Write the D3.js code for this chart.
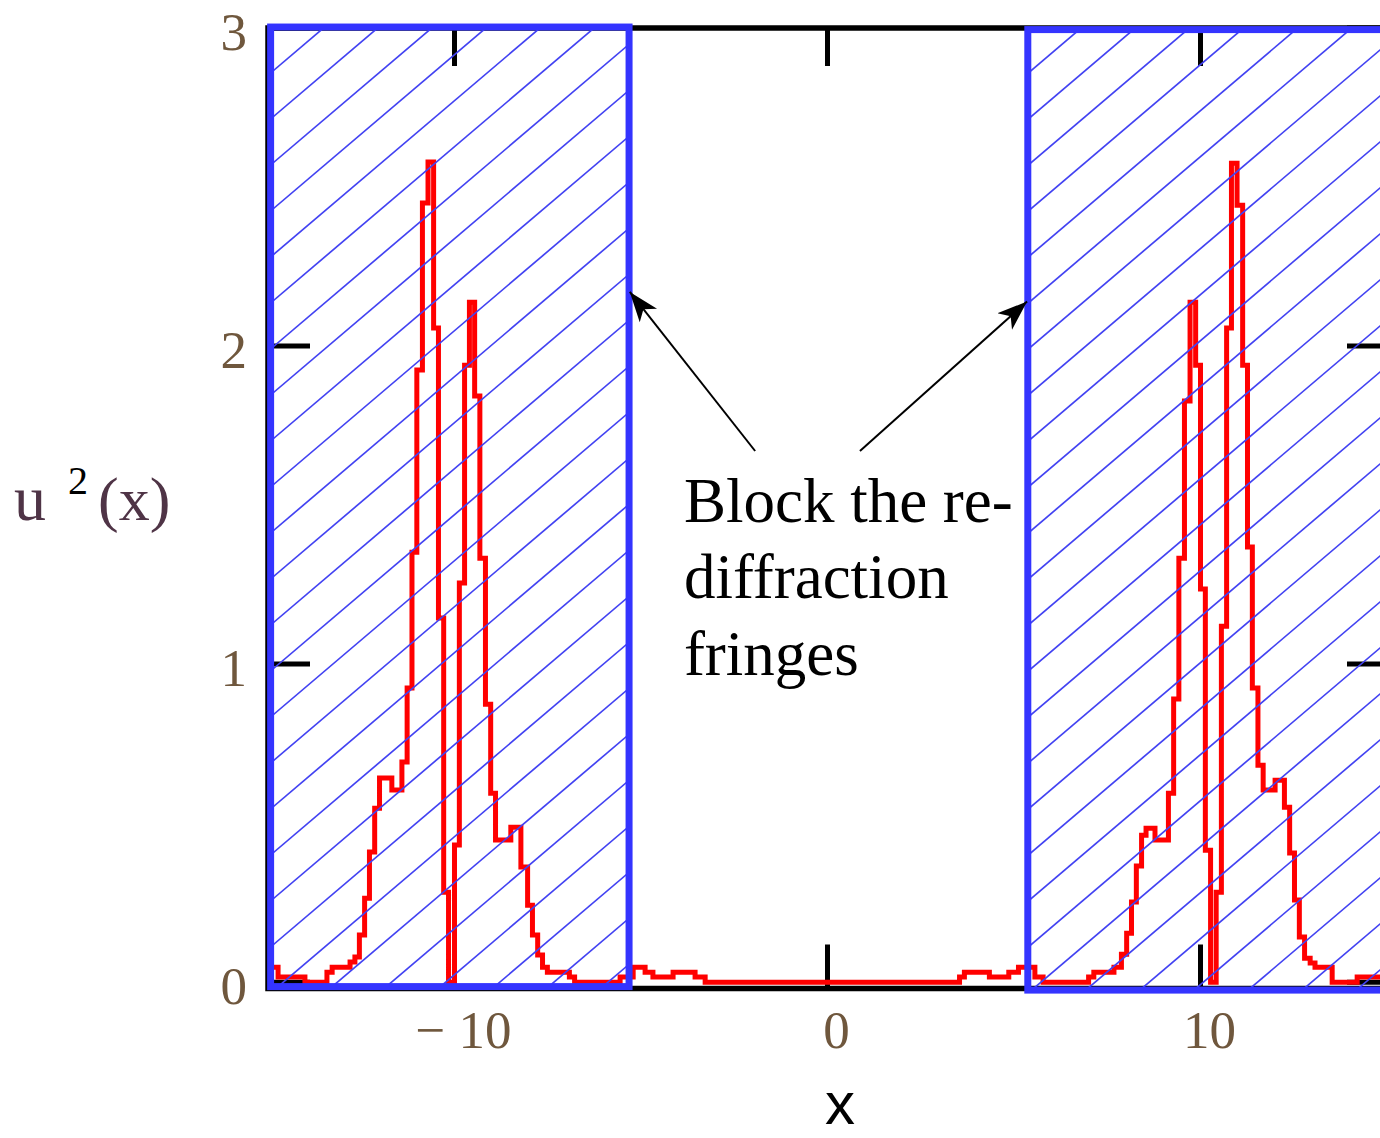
<!DOCTYPE html>
<html>
<head>
<meta charset="utf-8">
<script src="https://cdn.jsdelivr.net/npm/d3@7"></script>
<style>
  html, body { margin: 0; padding: 0; background: #ffffff; overflow: hidden; }
  svg { display: block; }
</style>
</head>
<body>
<svg id="chart" width="1380" height="1138"></svg>
<script>
// u²(x) intensity profile, held as a staircase: each x is where a new level starts
const profileX = [
  -15.00, -14.73, -14.01, -13.42, -13.28, -12.80, -12.67, -12.55, -12.41, -12.28,
  -12.14, -12.01, -11.68, -11.41, -11.27, -11.14, -11.01, -10.86, -10.71, -10.56,
  -10.43, -10.29, -10.16, -10.00, -9.87, -9.73, -9.60, -9.46, -9.32, -9.17,
  -9.03, -8.90, -8.49, -8.22, -8.04, -7.91, -7.77, -7.64, -7.51, -6.92,
  -6.78, -5.56, -5.21, -4.89, -4.68, -4.14, -3.55, -3.28,
  3.54, 3.67, 4.34, 4.86, 5.12, 5.56, 5.78, 7.00, 7.14, 7.68,
  7.88, 8.02, 8.15, 8.28, 8.42, 8.54, 8.78, 9.14, 9.28, 9.42,
  9.57, 9.72, 9.87, 10.00, 10.13, 10.27, 10.42, 10.56, 10.70, 10.83,
  10.98, 11.13, 11.26, 11.39, 11.54, 11.68, 12.00, 12.25, 12.39, 12.52,
  12.65, 12.79, 12.94, 13.07, 13.53, 14.20, 15.00
];
const profileY = [
  0.047, 0.016, 0.000, 0.031, 0.047, 0.063, 0.079, 0.148, 0.264, 0.409,
  0.547, 0.642, 0.604, 0.692, 0.925, 1.352, 1.925, 2.450, 2.579, 2.057,
  1.145, 0.283, 0.000, 0.431, 1.255, 1.940, 2.138, 1.843, 1.333, 0.874,
  0.594, 0.447, 0.487, 0.362, 0.242, 0.148, 0.085, 0.047, 0.031, 0.016,
  0.000, 0.016, 0.047, 0.031, 0.016, 0.031, 0.016, 0.000,
  0.016, 0.031, 0.016, 0.031, 0.047, 0.016, 0.000, 0.016, 0.031, 0.047,
  0.088, 0.154, 0.252, 0.365, 0.462, 0.484, 0.447, 0.594, 0.890, 1.333,
  1.827, 2.138, 1.940, 1.236, 0.415, 0.000, 0.283, 1.119, 2.057, 2.575,
  2.443, 1.940, 1.368, 0.925, 0.682, 0.604, 0.635, 0.550, 0.406, 0.258,
  0.142, 0.075, 0.060, 0.047, 0.000, 0.016, 0.016
];

const xTicks = [-10, 0, 10];
const xTickLabels = ["\u2212 10", "0", "10"];
const yTicks = [0, 1, 2, 3];
const yTickLabels = ["0", "1", "2", "3"];

// blocked (hatched) bands: [x0, x1, yBottom, yTop]
const bandLeft = [-14.93, -5.32, -0.014, 3.003];
const bandRight = [5.37, 15.25, -0.025, 2.995];

// annotation
const noteLines = ["Block the re-", "diffraction", "fringes"];
const noteAnchor = [-3.85, 1.447];
const arrowTails = [[-1.94, 1.67], [0.87, 1.67]];
const arrowTips = [[-5.30, 2.17], [5.35, 2.14]];

const svg = d3.select("#chart");
const x = d3.scaleLinear().domain([-15, 15]).range([268, 1387]);
const y = d3.scaleLinear().domain([-0.02, 3]).range([988.5, 28]);

const serif = "'Liberation Serif', 'Times New Roman', serif";
const labelColor = "#6f573d";
const blue = "#3434ff";

// frame
svg.append("rect")
  .attr("x", x(-15)).attr("y", y(3))
  .attr("width", x(15) - x(-15)).attr("height", y(-0.02) - y(3))
  .attr("fill", "none").attr("stroke", "#000").attr("stroke-width", 5.5);

// inward ticks on all four sides
const tickLen = 40;
const ticks = svg.append("g").attr("stroke", "#000").attr("stroke-width", 5);
xTicks.forEach(t => {
  ticks.append("line").attr("x1", x(t)).attr("x2", x(t)).attr("y1", y(3)).attr("y2", y(3) + tickLen - 2);
  ticks.append("line").attr("x1", x(t)).attr("x2", x(t)).attr("y1", y(-0.02)).attr("y2", y(-0.02) - tickLen - 4);
});
yTicks.forEach(t => {
  ticks.append("line").attr("x1", x(-15)).attr("x2", x(-15) + tickLen + 2).attr("y1", y(t)).attr("y2", y(t));
  ticks.append("line").attr("x1", x(15)).attr("x2", x(15) - tickLen).attr("y1", y(t)).attr("y2", y(t));
});

// tick labels
svg.append("g").selectAll("text").data(xTicks).join("text")
  .attr("x", d => x(d) + 9).attr("y", 1048)
  .attr("text-anchor", "middle")
  .attr("font-family", serif).attr("font-size", 53)
  .attr("fill", labelColor)
  .text((d, i) => xTickLabels[i]);

svg.append("g").selectAll("text").data(yTicks).join("text")
  .attr("x", 247).attr("y", d => y(d) + 22)
  .attr("text-anchor", "end")
  .attr("font-family", serif).attr("font-size", 53)
  .attr("fill", labelColor)
  .text((d, i) => yTickLabels[i]);

// axis titles
const yTitle = svg.append("g").attr("font-family", serif).attr("fill", "#4f3446");
yTitle.append("text").attr("x", 14).attr("y", 520).attr("font-size", 64).text("u");
yTitle.append("text").attr("x", 68).attr("y", 494).attr("font-size", 40).attr("fill", "#000").text("2");
yTitle.append("text").attr("x", 98).attr("y", 520).attr("font-size", 62).text("(x)");

svg.append("text")
  .attr("x", 840).attr("y", 1124)
  .attr("text-anchor", "middle")
  .attr("font-family", "'Liberation Sans', Arial, sans-serif")
  .attr("font-size", 60).attr("fill", "#000")
  .text("x");

// profile curve
const profile = profileX.map((v, i) => [v, profileY[i]]);
const line = d3.line()
  .x(d => x(d[0])).y(d => y(d[1]))
  .curve(d3.curveStepAfter);
svg.append("path")
  .datum(profile)
  .attr("d", line)
  .attr("fill", "none")
  .attr("stroke", "#ff0000")
  .attr("stroke-width", 5)
  .attr("stroke-linejoin", "miter");

// hatched bands
const defs = svg.append("defs");
[bandLeft, bandRight].forEach((b, i) => {
  const rx = x(b[0]), ry = y(b[3]);
  const rw = x(b[1]) - x(b[0]), rh = y(b[2]) - y(b[3]);
  defs.append("clipPath").attr("id", "band-clip-" + i)
    .append("rect").attr("x", rx).attr("y", ry).attr("width", rw).attr("height", rh);

  // diagonal hatch: lines with py + 0.85*px constant, 46px apart
  const hatch = svg.append("g")
    .attr("clip-path", "url(#band-clip-" + i + ")")
    .attr("stroke", "#4242f2").attr("stroke-width", 1.7);
  for (let k = 0; k < 56; k++) {
    const c = 27 + 46 * k;
    hatch.append("line")
      .attr("x1", 200).attr("y1", c - 0.85 * 200)
      .attr("x2", 1420).attr("y2", c - 0.85 * 1420);
  }

  svg.append("rect")
    .attr("x", rx).attr("y", ry).attr("width", rw).attr("height", rh)
    .attr("fill", "none").attr("stroke", blue).attr("stroke-width", 7);
});

// arrows
defs.append("marker")
  .attr("id", "head")
  .attr("viewBox", "0 -14 32 28")
  .attr("refX", 30).attr("refY", 0)
  .attr("markerUnits", "userSpaceOnUse")
  .attr("markerWidth", 32).attr("markerHeight", 28)
  .attr("orient", "auto")
  .append("path")
  .attr("d", "M0,-11 L30,0 L0,11 L8,0 Z")
  .attr("fill", "#000");

arrowTails.forEach((t, i) => {
  svg.append("line")
    .attr("x1", x(t[0])).attr("y1", y(t[1]))
    .attr("x2", x(arrowTips[i][0])).attr("y2", y(arrowTips[i][1]))
    .attr("stroke", "#000").attr("stroke-width", 2)
    .attr("marker-end", "url(#head)");
});

// annotation text
svg.append("g").selectAll("text").data(noteLines).join("text")
  .attr("x", x(noteAnchor[0]))
  .attr("y", (d, i) => y(noteAnchor[1]) + i * 76.5)
  .attr("font-family", serif).attr("font-size", 63)
  .attr("fill", "#000")
  .text(d => d);
</script>
</body>
</html>
